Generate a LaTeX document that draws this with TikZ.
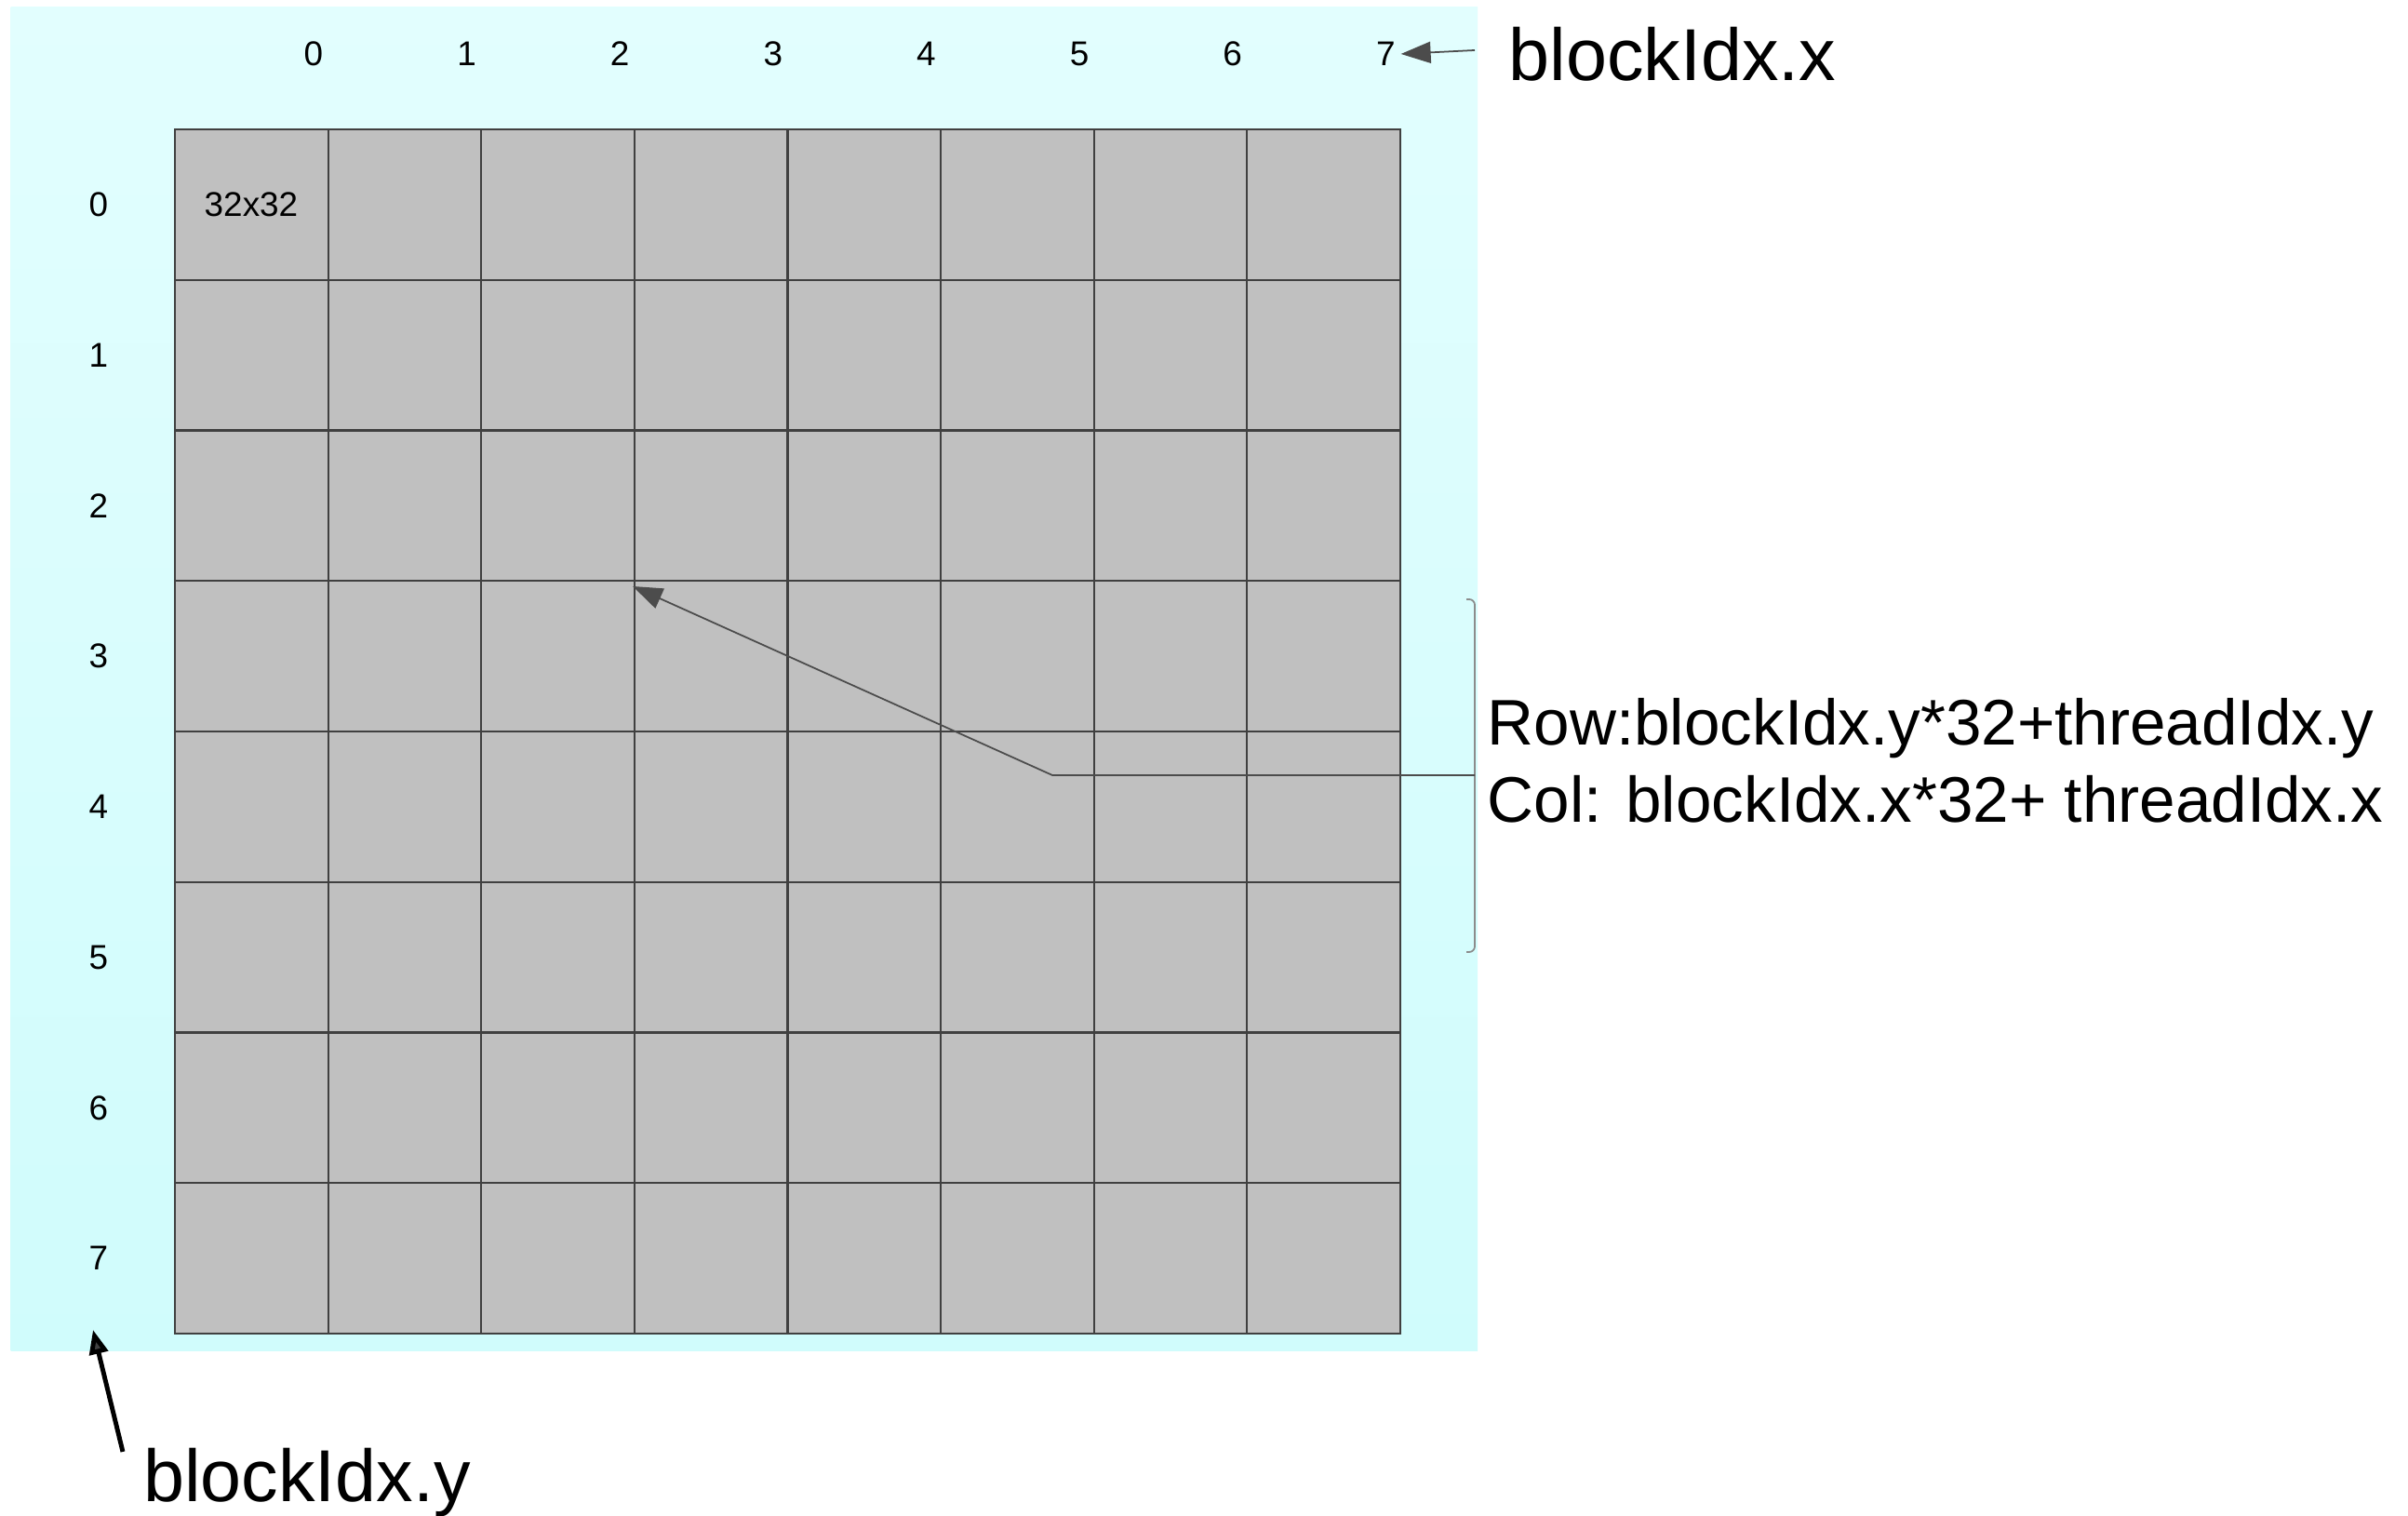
\documentclass[tikz,border=0pt]{standalone}
\usepackage{fontspec}
\setmainfont{Liberation Sans}
\usetikzlibrary{arrows.meta}
\definecolor{bgtop}{RGB}{226,254,254}
\definecolor{bgbottom}{RGB}{208,252,252}
\definecolor{cellgray}{RGB}{192,192,192}

\begin{document}
\begin{tikzpicture}[idx/.style={inner sep=0pt,font=\fontsize{10.5}{12}\selectfont},big/.style={inner sep=0pt,font=\fontsize{22.5}{27}\selectfont},formula/.style={inner sep=0pt,align=left,font=\fontsize{19.7}{23.6}\selectfont},cellline/.style={draw=black!75,line width=0.6pt},pointer/.style={draw=black!70,line width=0.5pt,-{Triangle[length=3.2mm,width=2.3mm]}},bypointer/.style={draw=black,line width=1.4pt,-{Triangle[length=2.6mm,width=2mm,fill=black!75]}},bracketline/.style={draw=black!45,line width=0.5pt,rounded corners=0.6mm}]
\useasboundingbox (0,0) rectangle (25.88,16.29);
\shade[top color=bgtop,bottom color=bgbottom] (0.115,1.77) rectangle (15.88,16.21);
% block grid
\filldraw[fill=cellgray,cellline] (1.88,1.96) rectangle (15.05,14.90);
\foreach \i in {1,...,7} \draw[cellline] ({1.88+1.64625*\i},1.96) -- ({1.88+1.64625*\i},14.90);
\foreach \j in {1,...,7} \draw[cellline] (1.88,{1.96+1.6175*\j}) -- (15.05,{1.96+1.6175*\j});
\foreach \i in {0,...,7} \node[idx] (bx\i) at ({3.37+1.64625*\i},15.71) {\i};
\foreach \j in {0,...,7} \node[idx] (by\j) at (1.06,{14.90-1.6175*(\j+0.5)}) {\j};
\node[idx] (cell) at (2.70,14.09) {32x32};
% labels
\node[big,anchor=west] (bxlabel) at (16.21,15.71) {blockIdx.x};
\node[big,anchor=west] (bylabel) at (1.535,0.36) {blockIdx.y};
\node[formula,anchor=west] (formula) at (15.98,8.12) {Row:blockIdx.y*32+threadIdx.y\\Col: blockIdx.x*32+ threadIdx.x};
% connectors
\coordinate (bxtail) at (15.85,15.75);
\draw[pointer] (bxtail) -- ([xshift=1.5pt]bx7.east);
\coordinate (bytail) at (1.32,0.69);
\coordinate (bytip) at (1.00,2.00);
\draw[bypointer] (bytail) -- (bytip);
\draw[bracketline] (15.76,9.85) -- (15.85,9.85) -- (15.85,6.06) -- (15.76,6.06);
\coordinate (brkmid) at (15.85,7.96);
\coordinate (elbow) at (11.31,7.96);
\coordinate (target) at (6.80,9.99);
\draw[pointer] (brkmid) -- (elbow) -- (target);
\end{tikzpicture}
\end{document}
